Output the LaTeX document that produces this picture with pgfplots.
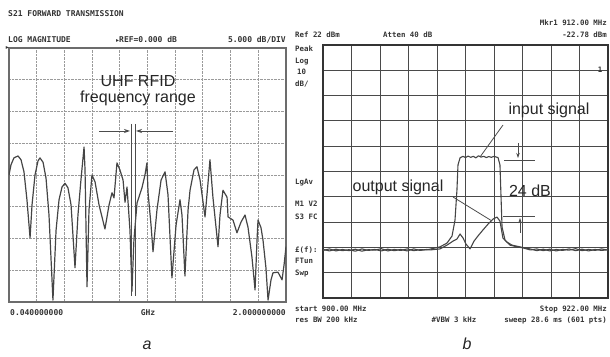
\documentclass[border=0pt]{standalone}
\usepackage{pgfplots}
\pgfplotsset{compat=1.18}
\usepackage{fontspec}
\setmainfont{Liberation Sans}
\newfontfamily\mono{DejaVu Sans Mono}
\newfontfamily\dv{DejaVu Sans}
\usetikzlibrary{arrows.meta}
\definecolor{trace}{HTML}{454545}
\definecolor{gridl}{HTML}{9A9A9A}
\definecolor{gridr}{HTML}{4A4A4A}
\definecolor{inst}{HTML}{333333}
\newcommand{\insa}{\mono\bfseries\fontsize{8.0}{9}\selectfont}
\newcommand{\ins}{\mono\bfseries\fontsize{7.4}{8}\selectfont}
\newcommand{\ann}{\fontsize{16}{18}\selectfont}
\begin{document}
\begin{tikzpicture}
\useasboundingbox (0pt,0pt) rectangle (610pt,356pt);
% ---------------- panel a ----------------
\begin{axis}[at={(9pt,54pt)}, anchor=south west, scale only axis,
  width=277pt, height=254pt,
  xmin=0.04, xmax=2, ymin=-40, ymax=0,
  xtick={0.236,0.432,0.628,0.824,1.02,1.216,1.412,1.608,1.804},
  ytick={-35,-30,-25,-20,-15,-10,-5},
  xticklabels={}, yticklabels={}, major tick length=0pt,
  grid=major, grid style={gridl, densely dotted, line width=0.9pt},
  axis line style={gridl!70!black, line width=1.3pt}]
\addplot[trace, line width=1.2pt, line join=round] coordinates {
(0.040,-20.0)(0.054,-18.4)(0.075,-17.3)(0.104,-17.0)(0.125,-17.6)(0.146,-19.5)
(0.167,-23.9)(0.189,-29.9)(0.203,-24.7)(0.224,-20.0)(0.245,-17.8)(0.259,-17.3)
(0.281,-18.0)(0.302,-20.5)(0.323,-26.3)(0.351,-39.7)(0.373,-28.7)(0.394,-23.9)
(0.415,-21.9)(0.436,-21.3)(0.457,-22.0)(0.479,-24.7)(0.507,-34.6)(0.528,-26.3)
(0.549,-20.8)(0.571,-15.6)(0.578,-19.2)(0.592,-37.6)(0.606,-25.5)(0.627,-20.0)
(0.649,-21.1)(0.677,-24.7)(0.719,-28.5)(0.748,-24.7)(0.769,-22.8)(0.783,-23.6)
(0.804,-18.1)(0.825,-19.2)(0.847,-20.8)(0.861,-24.3)(0.875,-21.9)(0.896,-28.7)
(0.910,-38.3)(0.924,-30.2)(0.946,-24.4)(0.981,-22.0)(1.002,-20.0)(1.016,-18.1)
(1.024,-22.8)(1.045,-27.9)(1.059,-32.1)(1.087,-25.5)(1.116,-20.8)(1.144,-19.5)
(1.165,-23.1)(1.193,-36.2)(1.222,-27.9)(1.250,-23.9)(1.264,-26.3)(1.285,-35.9)
(1.307,-25.5)(1.321,-22.4)(1.349,-19.2)(1.370,-18.7)(1.392,-20.8)(1.427,-26.6)
(1.448,-21.3)(1.462,-17.6)(1.483,-23.5)(1.519,-31.3)(1.533,-26.3)(1.554,-22.4)
(1.583,-23.5)(1.590,-26.6)(1.625,-27.1)(1.653,-29.1)(1.682,-27.4)(1.710,-26.3)
(1.731,-28.2)(1.759,-32.9)(1.781,-38.1)(1.795,-30.2)(1.802,-27.1)(1.823,-28.3)
(1.837,-30.2)(1.858,-34.6)(1.873,-39.7)(1.894,-36.5)(1.908,-35.4)(1.943,-35.3)
(1.972,-36.5)(1.986,-34.2)(2.000,-31.3)};
\end{axis}
% ---------------- panel b ----------------
\begin{axis}[at={(323pt,58pt)}, anchor=south west, scale only axis,
  width=285pt, height=253pt,
  xmin=900, xmax=922, ymin=-78, ymax=22,
  xtick={902.2,904.4,906.6,908.8,911,913.2,915.4,917.6,919.8},
  ytick={-68,-58,-48,-38,-28,-18,-8,2,12},
  xticklabels={}, yticklabels={}, major tick length=0pt,
  grid=major, grid style={gridr, line width=1.0pt},
  axis line style={gridr!70!black, line width=1.5pt}]
\addplot[trace, line width=1.1pt, line join=round] coordinates {
(900,-59.2)(900.5,-58.6)(901,-59.4)(901.5,-58.8)(902,-59.3)(902.5,-58.7)
(903,-59.5)(903.5,-58.9)(904,-59.1)(904.5,-58.5)(905,-59.4)(905.5,-58.8)
(906,-59.2)(906.5,-58.6)(907,-59.3)(907.5,-58.9)(908,-59.0)(908.5,-58.4)
(909.03,-57.8)(909.57,-56.3)(909.96,-53.5)(910.19,-47.2)(910.34,-35.3)
(910.42,-25.4)(910.58,-22.6)(910.8,-22.0)(911.0,-22.5)(911.2,-21.9)(911.4,-22.4)
(911.6,-22.0)(911.8,-22.6)(912.0,-21.8)(912.2,-22.3)(912.4,-22.0)(912.6,-22.5)
(912.8,-22.1)(913.0,-22.4)(913.2,-22.0)(913.51,-22.5)(913.66,-25.4)(913.82,-49.9)
(914.05,-55.1)(914.43,-57.1)(915.0,-57.8)(915.44,-58.2)(916,-59.0)(916.5,-58.6)
(917,-59.3)(917.5,-58.7)(918,-59.4)(918.5,-58.8)(919,-59.1)(919.5,-58.5)
(920,-59.3)(920.5,-58.8)(921,-59.2)(921.5,-58.6)(922,-59.1)};
\addplot[trace, line width=1.1pt, line join=round] coordinates {
(900,-58.8)(900.5,-59.4)(901,-58.7)(901.5,-59.3)(902,-58.9)(902.5,-59.5)
(903,-58.6)(903.5,-59.2)(904,-58.8)(904.5,-59.4)(905,-58.7)(905.5,-59.3)
(906,-58.8)(906.5,-59.4)(907,-58.6)(907.5,-59.2)(908,-58.8)(908.26,-59.0)
(909.03,-58.6)(909.57,-57.1)(910.04,-55.5)(910.34,-54.7)(910.58,-52.7)
(910.81,-54.3)(911.04,-56.7)(911.35,-58.6)(911.66,-55.5)(911.96,-53.5)
(912.35,-51.1)(912.74,-48.8)(913.12,-46.8)(913.43,-46.0)(913.66,-47.6)
(913.89,-54.3)(914.20,-55.9)(914.59,-57.1)(915.21,-57.8)(915.98,-58.6)
(916.5,-59.3)(917,-58.7)(917.5,-59.4)(918,-58.8)(918.5,-59.2)(919,-58.6)
(919.5,-59.3)(920,-58.7)(920.5,-59.4)(921,-58.8)(921.5,-59.2)(922,-58.9)};
\end{axis}
\begin{scope}[x=1pt,y=1pt]
% ---------------- instrument texts ----------------
\begin{scope}[every node/.style={inner sep=0pt, text=inst, font=\insa}]
\node[anchor=base west] at (8,339) {S21 FORWARD TRANSMISSION};
\node[anchor=base west] at (8,313) {LOG MAGNITUDE};
\node[anchor=base west] at (116,313) {{\dv\fontsize{6}{7}\selectfont ▸}REF=0.000 dB};
\node[anchor=base east] at (286,313) {5.000 dB/DIV};
\node[anchor=base west] at (10,41) {0.040000000};
\node[anchor=base] at (148,41) {GHz};
\node[anchor=base east] at (286,41) {2.000000000};
\node[anchor=east] at (9,308) {\dv\fontsize{6}{7}\selectfont ▸};
\end{scope}
\begin{scope}[every node/.style={inner sep=0pt, text=inst, font=\ins}]
\node[anchor=base east] at (607,330) {Mkr1  912.00 MHz};
\node[anchor=base east] at (607,318) {-22.78 dBm};
\node[anchor=base west] at (295,318) {Ref 22 dBm};
\node[anchor=base west] at (383,318) {Atten 40 dB};
\node[anchor=base west] at (295,304) {Peak};
\node[anchor=base west] at (295,292) {Log};
\node[anchor=base west] at (297,281) {10};
\node[anchor=base west] at (295,269) {dB/};
\node[anchor=base west] at (295,171) {LgAv};
\node[anchor=base west] at (295,149) {M1 V2};
\node[anchor=base west] at (295,136) {S3 FC};
\node[anchor=base west] at (295,103) {£(f):};
\node[anchor=base west] at (295,92) {FTun};
\node[anchor=base west] at (295,80) {Swp};
\node[anchor=base west] at (295,45) {start 900.00 MHz};
\node[anchor=base west] at (295,34) {res BW 200 kHz};
\node[anchor=base] at (454,34) {\#VBW 3 kHz};
\node[anchor=base east] at (607,45) {Stop 922.00 MHz};
\node[anchor=base east] at (607,34) {sweep 28.6 ms (601 pts)};
\node[anchor=base] at (600,283) {1};
\end{scope}
% ---------------- annotations ----------------
\begin{scope}[every node/.style={inner sep=0pt, text=black!85, font=\ann}]
\node[anchor=base] at (138,269) {UHF RFID};
\node[anchor=base] at (138,253) {frequency range};
\node[anchor=base] at (549,241) {input signal};
\node[anchor=base] at (398,164) {output signal};
\node[anchor=base] at (530,159) {24 dB};
\node[anchor=base] at (147,7) {\itshape a};
\node[anchor=base] at (467,7) {\itshape b};
\end{scope}
\begin{scope}[draw=black!70, line width=0.8pt]
\draw[-{Stealth[length=6pt,width=4pt]}] (99,225) -- (130,225);
\draw[-{Stealth[length=6pt,width=4pt]}] (173,225) -- (136,225);
\draw (131,232) -- (131,60);
\draw (135,232) -- (135,60);
\draw (503,231) -- (480,199);
\draw (453,159) -- (492,135);
\draw (504,196) -- (535,196);
\draw[-{Stealth[length=5pt,width=3.5pt]}] (518,213) -- (518,198);
\draw (503,140) -- (535,140);
\draw[-{Stealth[length=5pt,width=3.5pt]}] (520,123) -- (520,138);
\end{scope}
\end{scope}
\end{tikzpicture}
\end{document}
